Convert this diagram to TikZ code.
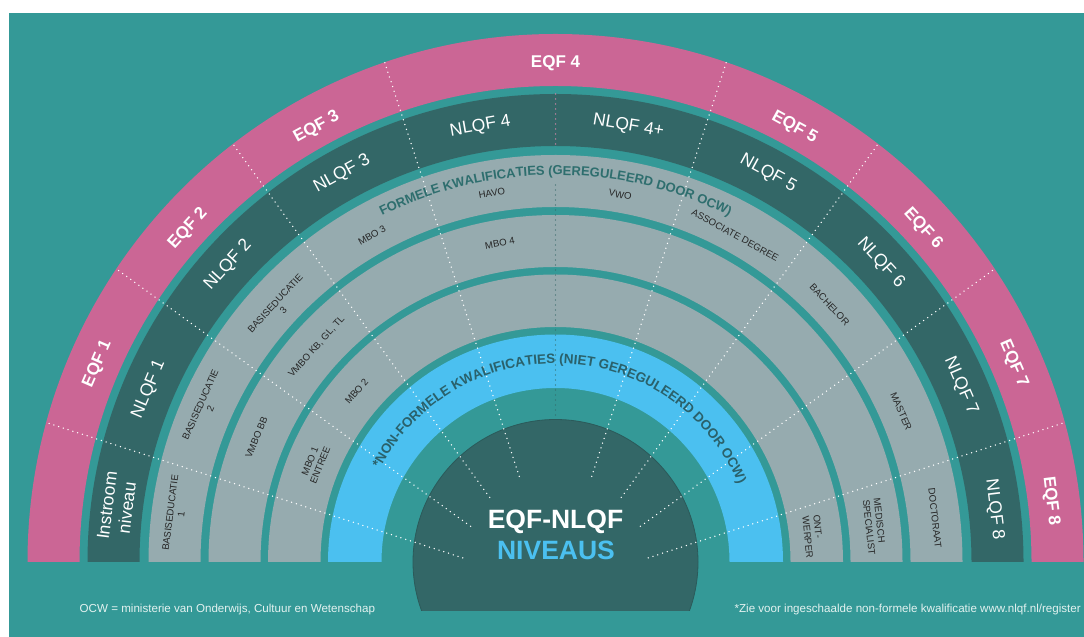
\documentclass[tikz,border=0pt]{standalone}
\usepackage{fontspec}
\setmainfont{Liberation Sans}
\usetikzlibrary{decorations.text}
\definecolor{bgteal}{HTML}{349997}
\definecolor{eqfpink}{HTML}{CB6695}
\definecolor{nlqfdark}{HTML}{336767}
\definecolor{ringgray}{HTML}{96ABAF}
\definecolor{nfblue}{HTML}{4BC0F0}
\definecolor{labeltext}{HTML}{262626}
\definecolor{formtext}{HTML}{2E6E6E}
\definecolor{nftext}{HTML}{2A616B}
\definecolor{disklinecol}{HTML}{2B5A5A}
\definecolor{notetext}{HTML}{E3F2F0}
\newcommand\halfring[3]{%
  \fill[#1] ([shift={(180:#2)}]C) arc[start angle=180,end angle=0,radius=#2]
    -- ([shift={(0:#3)}]C) arc[start angle=0,end angle=180,radius=#3] -- cycle;}
\begin{document}
\begin{tikzpicture}[x=1pt,y=1pt,
  eqf/.style={text=white, font=\fontsize{17}{17}\selectfont\bfseries, inner sep=0pt},
  nlqf/.style={text=white, font=\fontsize{17.5}{20}\selectfont, inner sep=0pt, align=center},
  glabel/.style={text=labeltext, font=\fontsize{9.6}{11}\selectfont, inner sep=0pt, align=center},
  dotline/.style={white, line width=1.5pt, line cap=round, dash pattern=on 0pt off 5pt},
  pinkdot/.style={eqfpink!80!white, line width=1.5pt, line cap=round, dash pattern=on 0pt off 5pt},
  darkdot/.style={nlqfdark, line width=1.4pt, line cap=round, dash pattern=on 0pt off 5pt},
  note/.style={text=notetext, font=\fontsize{11.6}{12}\selectfont, inner sep=0pt}]
\useasboundingbox (0,0) rectangle (1084,637);
\fill[white] (0,0) rectangle (1084,637);
\fill[bgteal] (9,0) rectangle (1084,624);
\coordinate (C) at (555.5,75);
\coordinate (F) at (555.5,49);
% bands
\halfring{eqfpink}{528}{476}
\halfring{nlqfdark}{468}{416}
\halfring{ringgray}{407}{355}
\halfring{ringgray}{347}{295}
\halfring{ringgray}{287.5}{235}
\halfring{nfblue}{227.5}{174}
% central disk
\begin{scope}
\clip (0,26) rectangle (1084,637);
\fill[nlqfdark, draw=disklinecol, line width=0.8pt] (C) circle[radius=142.5];
\end{scope}
% dotted dividers
\foreach \a/\ti/\tout in {162/97.5/535.5, 144/105/542.9, 126/112/548.8, 108/117.3/552.7,
                          72/117.3/552.7, 54/112/548.8, 36/105/542.9, 18/97.5/535.5}
  \draw[dotline] ([shift={(\a:\ti)}]F) -- ([shift={(\a:\tout)}]F);
\coordinate (v1) at (555.5,543);
\coordinate (v2) at (555.5,491);
\coordinate (v3) at (555.5,452);
\coordinate (v4) at (555.5,218);
\draw[pinkdot] (v1) -- (v2);
\draw[darkdot] (v3) -- (v4);
% curved titles
\path[decorate, decoration={text along path, text align=center, text color=formtext,
  text={|\fontsize{13}{13}\selectfont\bfseries|FORMELE KWALIFICATIES (GEREGULEERD DOOR OCW)}}]
  ([shift={(180:387)}]C) arc[start angle=180, end angle=0, radius=387];
\path[decorate, decoration={text along path, text align=center, text color=nftext,
  text={|\fontsize{13.5}{13.5}\selectfont\bfseries|*NON-FORMELE KWALIFICATIES (NIET GEREGULEERD DOOR OCW)}}]
  ([shift={(177.55:198.7)}]C) arc[start angle=177.55, end angle=-2.45, radius=198.7];
% EQF labels
\node[eqf, rotate=66.6] (eqf1) at ([shift={(156.6:499)}]C) {EQF 1};
\node[eqf, rotate=47.8] (eqf2) at ([shift={(137.8:496)}]C) {EQF 2};
\node[eqf, rotate=28.8] (eqf3) at ([shift={(118.8:496)}]C) {EQF 3};
\node[eqf] (eqf4) at ([shift={(90:499)}]C) {EQF 4};
\node[eqf, rotate=-28.8] (eqf5) at ([shift={(61.2:496)}]C) {EQF 5};
\node[eqf, rotate=-47.8] (eqf6) at ([shift={(42.2:496)}]C) {EQF 6};
\node[eqf, rotate=-66.6] (eqf7) at ([shift={(23.4:499)}]C) {EQF 7};
\node[eqf, rotate=-83] (eqf8) at ([shift={(7:499)}]C) {EQF 8};
% NLQF labels
\node[nlqf, rotate=82.8] (instr) at ([shift={(172.8:442)}]C) {Instroom\\niveau};
\node[nlqf, rotate=67] (nlqf1) at ([shift={(157:442)}]C) {NLQF 1};
\node[nlqf, rotate=47.8] (nlqf2) at ([shift={(137.8:442)}]C) {NLQF 2};
\node[nlqf, rotate=28.8] (nlqf3) at ([shift={(118.8:443)}]C) {NLQF 3};
\node[nlqf, rotate=9.8] (nlqf4) at ([shift={(99.8:442)}]C) {NLQF 4};
\node[nlqf, rotate=-9.5] (nlqf4p) at ([shift={(80.5:442)}]C) {NLQF 4+};
\node[nlqf, rotate=-28.7] (nlqf5) at ([shift={(61.3:443)}]C) {NLQF 5};
\node[nlqf, rotate=-47.4] (nlqf6) at ([shift={(42.6:442)}]C) {NLQF 6};
\node[nlqf, rotate=-66.5] (nlqf7) at ([shift={(23.5:442)}]C) {NLQF 7};
\node[nlqf, rotate=-83.2] (nlqf8) at ([shift={(6.8:442)}]C) {NLQF 8};
% ring 1
\node[glabel, rotate=82.7] (be1) at ([shift={(172.7:383)}]C) {BASISEDUCATIE\\1};
\node[glabel, rotate=66.1] (be2) at ([shift={(156.1:383)}]C) {BASISEDUCATIE\\2};
\node[glabel, rotate=47.3] (be3) at ([shift={(137.3:376)}]C) {BASISEDUCATIE\\3};
\node[glabel, rotate=29.3] (mbo3) at ([shift={(119.3:375)}]C) {MBO 3};
\node[glabel, rotate=9.8] (havo) at ([shift={(99.8:374)}]C) {HAVO};
\node[glabel, rotate=-10] (vwo) at ([shift={(80:373)}]C) {VWO};
\node[glabel, rotate=-28.8] (ad) at ([shift={(61.2:373)}]C) {ASSOCIATE DEGREE};
\node[glabel, rotate=-46.8] (bach) at ([shift={(43.2:376)}]C) {BACHELOR};
\node[glabel, rotate=-66.5] (mast) at ([shift={(23.5:377)}]C) {MASTER};
\node[glabel, rotate=-83.4] (doct) at ([shift={(6.6:382)}]C) {DOCTORAAT};
% ring 2
\node[glabel, rotate=67.4] (vbb) at ([shift={(157.4:324)}]C) {VMBO BB};
\node[glabel, rotate=48] (vkb) at ([shift={(138:321.5)}]C) {VMBO KB, GL, TL};
\node[glabel, rotate=9.9] (mbo4) at ([shift={(99.9:323.5)}]C) {MBO 4};
\node[glabel, rotate=-83.7, align=left] (med) at ([shift={(6.3:321)}]C) {MEDISCH\\SPECIALIST};
% ring 3
\node[glabel, rotate=67.7] (mbo1) at ([shift={(157.7:260)}]C) {MBO 1\\ENTREE};
\node[glabel, rotate=49.4] (mbo2) at ([shift={(139.4:262)}]C) {MBO 2};
\node[glabel, rotate=-84.4, align=left] (ont) at ([shift={(5.6:259)}]C) {ONT-\\WERPER};
% centre title
\node[text=white, font=\fontsize{26.5}{26.5}\selectfont\bfseries, inner sep=0pt, anchor=base] (t1) at (555.5,108.7) {EQF-NLQF};
\node[text=nfblue, font=\fontsize{26.5}{26.5}\selectfont\bfseries, inner sep=0pt, anchor=base] (t2) at (556,77) {NIVEAUS};
% footnotes
\node[note, anchor=west] (ocw) at (79.5,27) {OCW = ministerie van Onderwijs, Cultuur en Wetenschap};
\node[note, anchor=east] (zie) at (1081,27) {*Zie voor ingeschaalde non-formele kwalificatie www.nlqf.nl/register};
\end{tikzpicture}
\end{document}
